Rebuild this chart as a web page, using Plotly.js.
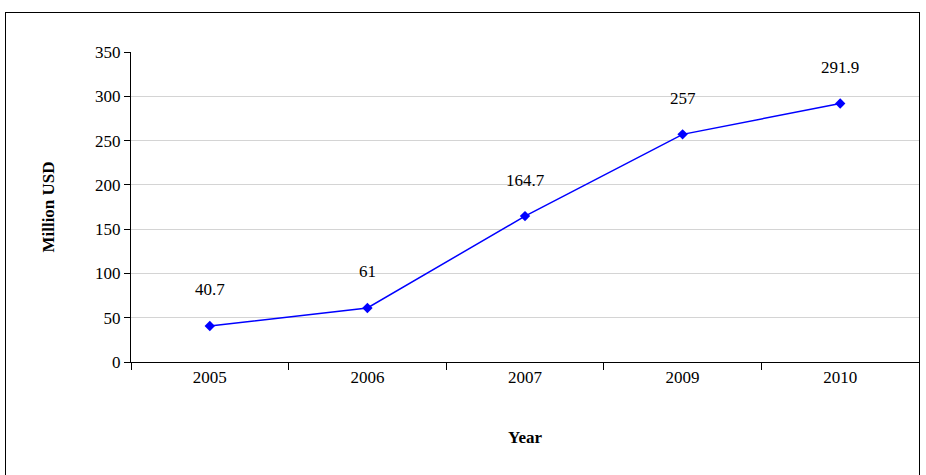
<!DOCTYPE html>
<html>
<head>
<script src="https://cdn.plot.ly/plotly-3.0.1.min.js"></script>
<style>
  body { margin: 0; background: #fff; }
  #chart { width: 926px; height: 475px; }
  #frame { position: absolute; left: 5px; top: 12px; width: 913px; height: 470px;
           border: 1.5px solid #000; pointer-events: none; }
</style>
</head>
<body>
<div id="chart"></div>
<div id="frame"></div>
<script>
// values
var years = ["2005", "2006", "2007", "2009", "2010"];
var values = [40.7, 61, 164.7, 257, 291.9];
var labels = ["40.7", "61", "164.7", "257", "291.9"];

var font = { family: "Liberation Serif", size: 17, color: "#000" };

// category slots 0..n-1, boundaries between them
var slots = [];
var bounds = [-0.5];
for (var i = 0; i < years.length; i++) {
    slots.push(i);
    bounds.push(i + 0.5);
}

var trace = {
    x: slots,
    y: values,
    type: "scatter",
    mode: "lines+markers",
    line: { color: "#0000FF", width: 1.5 },
    marker: { color: "#0000FF", symbol: "diamond", size: 8 },
    hoverinfo: "none"
};

// invisible trace so the boundary-tick axis gets drawn
var tickTrace = {
    x: [bounds[0]], y: [0], xaxis: "x2", type: "scatter", mode: "markers",
    marker: { opacity: 0 }, hoverinfo: "none"
};

var notes = [];
for (var i = 0; i < years.length; i++) {
    notes.push({
        x: slots[i], y: values[i], text: labels[i], showarrow: false,
        yshift: 36, font: font
    });
}

var xrange = [-0.5, years.length - 0.5];

var layout = {
    width: 926, height: 475,
    margin: { l: 131, r: 7, t: 52, b: 113 },
    paper_bgcolor: "#fff", plot_bgcolor: "#fff",
    font: font,
    showlegend: false,
    annotations: notes,
    xaxis: {
        range: xrange,
        tickvals: slots, ticktext: years, tickangle: 0,
        ticks: "",
        showline: true, linecolor: "#000", linewidth: 1,
        showgrid: false, zeroline: false,
        tickfont: font,
        title: { text: "<b>Year</b>", font: font, standoff: 44 }
    },
    xaxis2: {
        overlaying: "x", side: "bottom", anchor: "y",
        range: xrange,
        tickvals: bounds, showticklabels: false,
        ticks: "outside", ticklen: 7, tickcolor: "#000",
        showline: false, showgrid: false, zeroline: false
    },
    yaxis: {
        range: [0, 350], dtick: 50,
        ticks: "outside", ticklen: 6, tickcolor: "#000",
        showline: true, linecolor: "#000", linewidth: 1,
        gridcolor: "#d4d4d4", gridwidth: 1, zeroline: false,
        tickfont: font,
        title: { text: "<b>Million USD</b>", font: font, standoff: 36 }
    }
};

Plotly.newPlot("chart", [trace, tickTrace], layout, { staticPlot: true });
</script>
</body>
</html>
